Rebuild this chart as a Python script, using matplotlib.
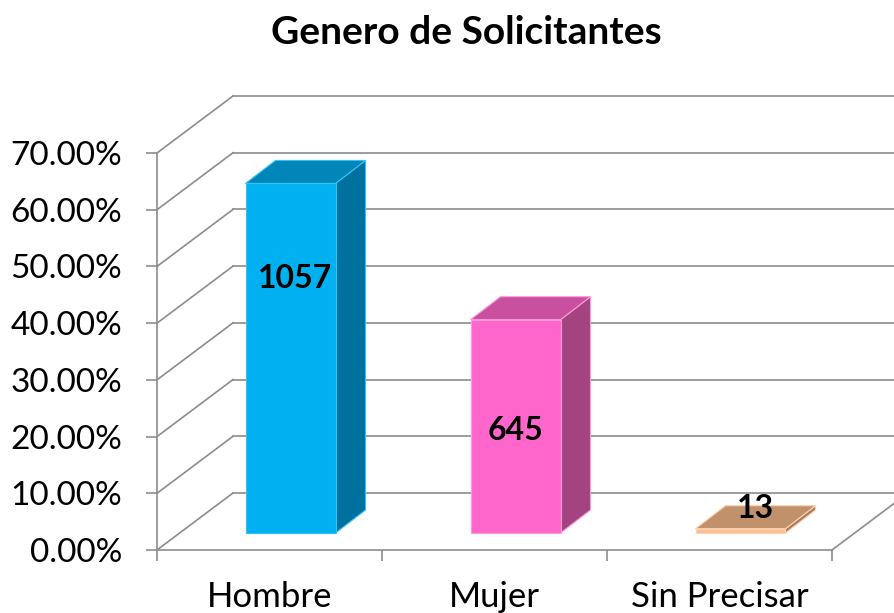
import matplotlib
matplotlib.use("Agg")
import matplotlib.pyplot as plt
from matplotlib.patches import Polygon
from matplotlib.ticker import FuncFormatter, FixedLocator

# ---- data ----
categories = ["Hombre", "Mujer", "Sin Precisar"]
counts = [1057, 645, 13]
yticks = [0, 10, 20, 30, 40, 50, 60, 70]
title = "Genero de Solicitantes"

total = sum(counts)
pcts = [c / total * 100 for c in counts]

front_cols = ["#00B0F0", "#FF66CC", "#FAC090"]
top_cols = ["#0086B8", "#C9509F", "#C0916B"]
side_cols = ["#00709E", "#A3437F", "#A87D5C"]
edge_cols = ["#33C4F7", "#FF9ADD", "#FCD2B0"]

plt.rcParams['font.family'] = ['Lato', 'DejaVu Sans']

W, H = 894, 613
fig = plt.figure(figsize=(W / 100, H / 100), dpi=100)
# front plane in pixels: x 157..832, y 550 (0%) .. 153 (70%)
x0p, x1p, y0p, y1p = 157, 832, 550, 153
ax = fig.add_axes([x0p / W, 1 - y0p / H, (x1p - x0p) / W, (y0p - y1p) / H])
ax.set_xlim(0, 3)
ax.set_ylim(0, 70)

px_x = 3 / (x1p - x0p)          # data units per pixel (x)
px_y = 70 / (y0p - y1p)         # data units per pixel (y)

# depth of the chart box
DX, DY = 76 * px_x, 57 * px_y
grid_col = "#8C8C8C"

# grid lines: diagonal on side wall + horizontal on back wall
for v in yticks:
    ax.plot([0, DX], [v, v + DY], color=grid_col, lw=1.2, clip_on=False, zorder=1)
    ax.plot([DX, 3 + DX + 1], [v + DY, v + DY], color=grid_col, lw=1.2, clip_on=False, zorder=1)
# floor right edge
ax.plot([3, 3 + DX], [0, DY], color=grid_col, lw=1.2, clip_on=False, zorder=1)

# bars
bw = 0.4
bdx0, bdy0 = 21 * px_x, 17 * px_y     # bar front face offset into depth
bdx, bdy = 30 * px_x, 23 * px_y       # bar depth
for i, p in enumerate(pcts):
    xa = i + 0.5 - bw / 2 + bdx0
    xb = xa + bw
    yb = bdy0
    yt = bdy0 + p
    side = Polygon([(xb, yb), (xb, yt), (xb + bdx, yt + bdy), (xb + bdx, yb + bdy)],
                   closed=True, facecolor=side_cols[i], edgecolor=edge_cols[i], lw=0.8,
                   clip_on=False, zorder=3)
    top = Polygon([(xa, yt), (xb, yt), (xb + bdx, yt + bdy), (xa + bdx, yt + bdy)],
                  closed=True, facecolor=top_cols[i], edgecolor=edge_cols[i], lw=0.8,
                  clip_on=False, zorder=3)
    front = Polygon([(xa, yb), (xb, yb), (xb, yt), (xa, yt)],
                    closed=True, facecolor=front_cols[i], edgecolor=edge_cols[i], lw=0.8,
                    clip_on=False, zorder=4)
    for patch in (side, top, front):
        ax.add_patch(patch)

# data labels (placed as in the original chart)
label_x = [0.5 + bdx0 + 5 * px_x, 1.5 + bdx0, 2.5 + bdx0 + 15 * px_x]
label_y = [(550 - 278) * px_y, (550 - 430) * px_y, (550 - 508) * px_y]
for i, c in enumerate(counts):
    ax.text(label_x[i], label_y[i], str(c), ha="center", va="center",
            fontsize=23, fontweight="bold", color="black", zorder=6, clip_on=False)

# axes styling
for s in ("top", "right"):
    ax.spines[s].set_visible(False)
for s in ("left", "bottom"):
    ax.spines[s].set_color(grid_col)
    ax.spines[s].set_linewidth(1.2)
ax.set_facecolor("none")

ax.yaxis.set_major_locator(FixedLocator(yticks))
ax.yaxis.set_major_formatter(FuncFormatter(lambda v, _: f"{v:.2f}%"))
ax.tick_params(axis="y", length=8, width=1.2, color=grid_col, labelsize=24, pad=17,
               labelcolor="black")

ax.set_xticks([0, 1, 2, 3])
ax.set_xticklabels([])
ax.set_xticks([0.5, 1.5, 2.5], minor=True)
ax.set_xticklabels(categories, minor=True)
ax.tick_params(axis="x", which="major", length=8, width=1.2, color=grid_col)
ax.tick_params(axis="x", which="minor", length=0, labelsize=25, pad=22, labelcolor="black")

fig.text(466 / W, 1 - 32 / H, title, ha="center", va="center",
         fontsize=28, fontweight="bold", color="black")

fig.savefig("out.png", dpi=100)
